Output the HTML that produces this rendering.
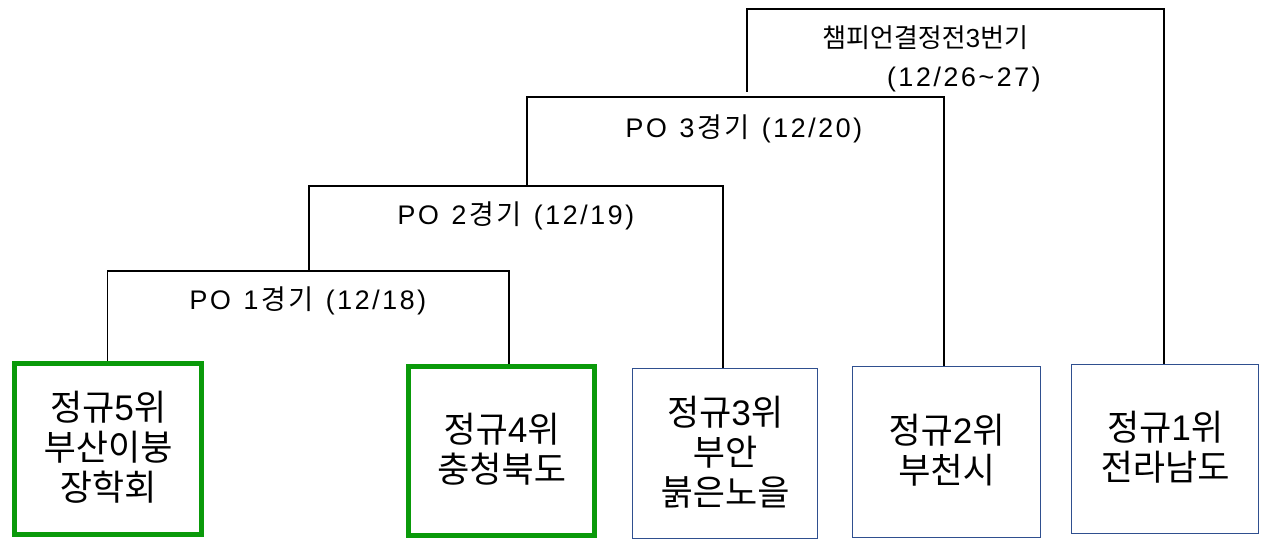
<!DOCTYPE html>
<html><head><meta charset="utf-8"><style>
body{margin:0;width:1269px;height:558px;background:#fff;position:relative;overflow:hidden;font-family:"Liberation Sans","Noto Sans CJK KR",sans-serif;color:#000}
.l{position:absolute;background:#000}
.b{position:absolute;box-sizing:border-box;display:flex;align-items:center;justify-content:center;text-align:center;font-size:35px;line-height:40px;background:#fff}
.g{border:5px solid #0a9a0a}
.u{border:1.5px solid #2f4f8f}
.t{position:absolute;font-size:27px;line-height:32px;letter-spacing:2.5px;white-space:nowrap;transform:translate(-50%,-50%)}
</style></head><body>
<div class="l" style="left:107px;top:270px;width:402px;height:1.5px"></div>
<div class="l" style="left:107px;top:270px;width:1px;height:92px"></div>
<div class="l" style="left:508px;top:270px;width:1.5px;height:95px"></div>
<div class="l" style="left:308px;top:185px;width:415px;height:1.5px"></div>
<div class="l" style="left:308px;top:185px;width:1.5px;height:85px"></div>
<div class="l" style="left:722px;top:185px;width:1.5px;height:183px"></div>
<div class="l" style="left:526px;top:96px;width:418px;height:1.5px"></div>
<div class="l" style="left:526px;top:96px;width:1.5px;height:89px"></div>
<div class="l" style="left:943px;top:96px;width:1.5px;height:270px"></div>
<div class="l" style="left:746px;top:8px;width:418px;height:1.5px"></div>
<div class="l" style="left:746px;top:8px;width:1.5px;height:84px"></div>
<div class="l" style="left:1163px;top:8px;width:1.5px;height:356px"></div>
<div class="t" style="left:309px;top:300px">PO 1경기 (12/18)</div>
<div class="t" style="left:517px;top:215px">PO 2경기 (12/19)</div>
<div class="t" style="left:745px;top:128px">PO 3경기 (12/20)</div>
<div class="t" style="left:925px;top:38px;font-size:26px;letter-spacing:0">챔피언결정전3번기</div>
<div class="t" style="left:965px;top:77px">(12/26~27)</div>
<div class="b g" style="left:12px;top:361px;width:192px;height:176px">정규5위<br>부산이붕<br>장학회</div>
<div class="b g" style="left:406px;top:364px;width:191px;height:174px">정규4위<br>충청북도</div>
<div class="b u" style="left:632px;top:368px;width:186px;height:171px">정규3위<br>부안<br>붉은노을</div>
<div class="b u" style="left:852px;top:366px;width:189px;height:172px">정규2위<br>부천시</div>
<div class="b u" style="left:1071px;top:364px;width:188px;height:170px">정규1위<br>전라남도</div>
</body></html>
